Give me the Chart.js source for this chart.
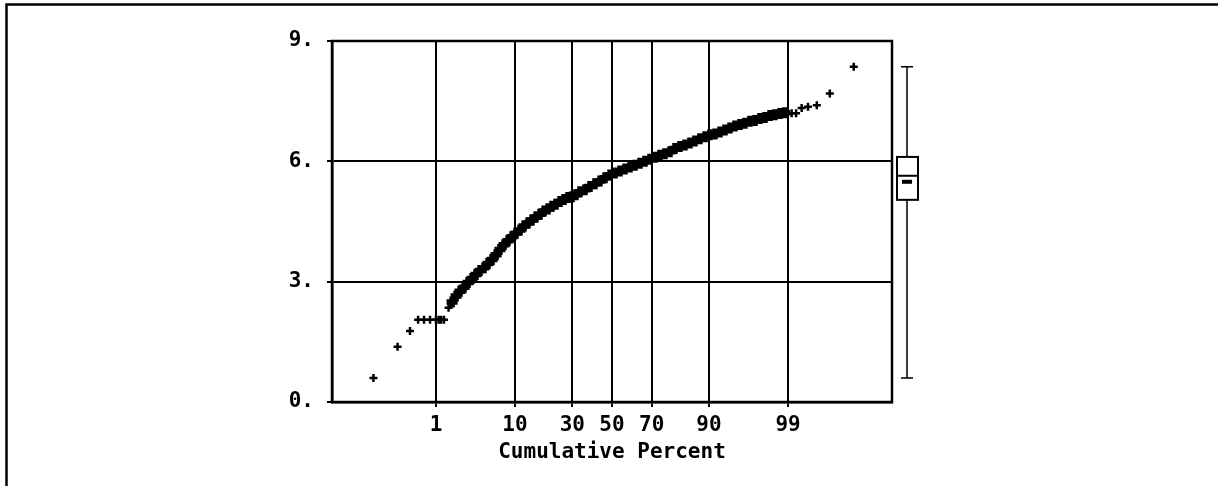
<!DOCTYPE html>
<html>
<head>
<meta charset="utf-8">
<script src="https://cdn.jsdelivr.net/npm/chart.js@4.4.0/dist/chart.umd.min.js"></script>
<style>
  html, body { margin: 0; padding: 0; background: #fff; }
  #wrap { position: relative; width: 1218px; height: 486px; }
</style>
</head>
<body>
<div id="wrap"><canvas id="probChart"></canvas></div>
<script>
// main body of the sample: cumulative percent and observed value
const bandPercent = [1.73, 1.97, 2.23, 2.53, 2.86, 3.22, 3.62, 4.06, 4.54, 5.07,
  5.65, 6.28, 6.94, 7.68, 8.47, 9.32, 10.24, 11.22, 12.26, 13.35,
  14.53, 15.77, 17.08, 18.46, 19.90, 21.39, 22.97, 24.61, 26.30, 28.06,
  29.87, 31.70, 33.62, 36.06, 38.56, 41.10, 43.69, 46.33, 48.96, 51.60,
  54.22, 56.83, 59.41, 61.94, 64.43, 66.86, 69.22, 71.50, 73.70, 75.80,
  77.82, 79.73, 81.54, 83.25, 84.85, 86.35, 87.74, 89.05, 90.23, 91.32,
  92.32, 93.23, 94.05, 94.79, 95.46, 96.05, 96.58, 97.06, 97.47, 97.84,
  98.16, 98.43, 98.68, 98.88];
const bandValue = [2.49, 2.64, 2.76, 2.86, 2.98, 3.08, 3.18, 3.28, 3.35, 3.45,
  3.55, 3.67, 3.80, 3.92, 4.02, 4.12, 4.21, 4.29, 4.39, 4.46,
  4.54, 4.61, 4.68, 4.76, 4.81, 4.88, 4.93, 5.00, 5.05, 5.10,
  5.12, 5.17, 5.24, 5.29, 5.37, 5.44, 5.51, 5.59, 5.66, 5.71,
  5.76, 5.81, 5.86, 5.90, 5.95, 6.00, 6.05, 6.10, 6.15, 6.19,
  6.24, 6.32, 6.37, 6.41, 6.46, 6.51, 6.56, 6.61, 6.66, 6.68,
  6.73, 6.78, 6.83, 6.88, 6.92, 6.95, 7.00, 7.02, 7.07, 7.09,
  7.14, 7.16, 7.19, 7.21];

// the sparse points out in both tails
const tailPercent = [0.081, 0.23, 0.38, 0.52, 0.65, 0.81, 1.0, 1.1, 1.2, 1.32, 1.54,
  99.12, 99.25, 99.39, 99.52, 99.66, 99.80, 99.93];
const tailValue = [0.6, 1.38, 1.77, 2.05, 2.05, 2.05, 2.05, 2.05, 2.05, 2.05, 2.35,
  7.2, 7.2, 7.33, 7.36, 7.4, 7.69, 8.36];

const tickPercents = [1, 10, 30, 50, 70, 90, 99];
const tickLabels = ["1", "10", "30", "50", "70", "90", "99"];

// box plot beside the frame: low whisker, lower hinge, median, upper hinge, high whisker
const boxValues = [0.6, 5.04, 5.64, 6.11, 8.36];
const meanValue = 5.49;

// inverse normal cdf (Acklam) - puts percents on the probability axis
function probit(p) {
    const a = [-39.69683028665376, 220.9460984245205, -275.9285104469687, 138.3577518672690, -30.66479806614716, 2.506628277459239];
    const b = [-54.47609879822406, 161.5858368580409, -155.6989798598866, 66.80131188771972, -13.28068155288572];
    const c = [-0.007784894002430293, -0.3223964580411365, -2.400758277161838, -2.549732539343734, 4.374664141464968, 2.938163982698783];
    const d = [0.007784695709041462, 0.3224671290700398, 2.445134137142996, 3.754408661907416];
    const plow = 0.02425;
    let q, r;
    if (p < plow) {
        q = Math.sqrt(-2 * Math.log(p));
        return (((((c[0]*q + c[1])*q + c[2])*q + c[3])*q + c[4])*q + c[5]) / ((((d[0]*q + d[1])*q + d[2])*q + d[3])*q + 1);
    }
    if (p > 1 - plow) {
        q = Math.sqrt(-2 * Math.log(1 - p));
        return -(((((c[0]*q + c[1])*q + c[2])*q + c[3])*q + c[4])*q + c[5]) / ((((d[0]*q + d[1])*q + d[2])*q + d[3])*q + 1);
    }
    q = p - 0.5;
    r = q * q;
    return (((((a[0]*r + a[1])*r + a[2])*r + a[3])*r + a[4])*r + a[5])*q / (((((b[0]*r + b[1])*r + b[2])*r + b[3])*r + b[4])*r + 1);
}

function toPoints(percents, values) {
    return percents.map((p, i) => ({ x: probit(p / 100), y: values[i] }));
}

const labelFont = { family: '"DejaVu Sans Mono", monospace', size: 21, weight: "bold" };

// page border, plot frame and the box plot on the right
const extrasPlugin = {
    id: "extras",
    afterDraw(chart) {
        const ctx = chart.ctx;
        const area = chart.chartArea;
        const y = chart.scales.y;
        ctx.save();
        ctx.strokeStyle = "#000";
        ctx.lineCap = "butt";

        ctx.lineWidth = 2.5;
        ctx.beginPath();
        ctx.moveTo(6.5, 486);
        ctx.lineTo(6.5, 4.5);
        ctx.lineTo(1218, 4.5);
        ctx.stroke();

        ctx.strokeRect(area.left, area.top, area.right - area.left, area.bottom - area.top);

        const bx = area.right + 15;
        const [lo, q1, med, q3, hi] = boxValues.map(v => y.getPixelForValue(v));
        ctx.lineWidth = 1.5;
        ctx.beginPath();
        ctx.moveTo(bx, hi); ctx.lineTo(bx, q3);
        ctx.moveTo(bx, q1); ctx.lineTo(bx, lo);
        ctx.moveTo(bx - 6, hi); ctx.lineTo(bx + 6, hi);
        ctx.moveTo(bx - 6, lo); ctx.lineTo(bx + 6, lo);
        ctx.stroke();

        ctx.lineWidth = 2;
        ctx.fillStyle = "#fff";
        ctx.fillRect(bx - 10, q3, 21, q1 - q3);
        ctx.strokeRect(bx - 10, q3, 21, q1 - q3);
        ctx.beginPath();
        ctx.moveTo(bx - 10, med); ctx.lineTo(bx + 11, med);
        ctx.stroke();

        ctx.fillStyle = "#000";
        const ym = y.getPixelForValue(meanValue);
        ctx.fillRect(bx - 5, ym - 2, 10, 4);
        ctx.restore();
    }
};

new Chart(document.getElementById("probChart"), {
    type: "scatter",
    data: {
        datasets: [{
            data: toPoints(bandPercent, bandValue),
            pointStyle: "cross",
            pointRadius: 5.5,
            borderWidth: 5.5,
            borderColor: "#000"
        }, {
            data: toPoints(tailPercent, tailValue),
            pointStyle: "cross",
            pointRadius: 4,
            borderWidth: 2.5,
            borderColor: "#000"
        }]
    },
    options: {
        responsive: true,
        maintainAspectRatio: false,
        animation: false,
        events: [],
        layout: { padding: { left: 272, right: 326, top: 41, bottom: 0 } },
        plugins: { legend: { display: false }, tooltip: { enabled: false } },
        scales: {
            x: {
                type: "linear",
                min: -3.7,
                max: 3.7,
                afterBuildTicks: axis => {
                    axis.ticks = tickPercents.map(p => ({ value: probit(p / 100) }));
                },
                afterFit: scale => { scale.height = 84; },
                ticks: {
                    autoSkip: false,
                    maxRotation: 0,
                    padding: 6,
                    color: "#000",
                    font: labelFont,
                    callback: (v, i) => tickLabels[i]
                },
                grid: { color: "#000", lineWidth: 2, tickLength: 5, tickColor: "#000" },
                border: { color: "#000", width: 2.5 },
                title: {
                    display: true,
                    text: "Cumulative Percent",
                    color: "#000",
                    font: labelFont,
                    padding: { top: 0, bottom: 21 }
                }
            },
            y: {
                min: 0,
                max: 9,
                afterFit: scale => { scale.width = 60; },
                ticks: {
                    stepSize: 3,
                    padding: 13,
                    color: "#000",
                    font: labelFont,
                    callback: v => v + "."
                },
                grid: { color: "#000", lineWidth: 2, tickLength: 5, tickColor: "#000" },
                border: { color: "#000", width: 2.5 }
            }
        }
    },
    plugins: [extrasPlugin]
});
</script>
</body>
</html>
